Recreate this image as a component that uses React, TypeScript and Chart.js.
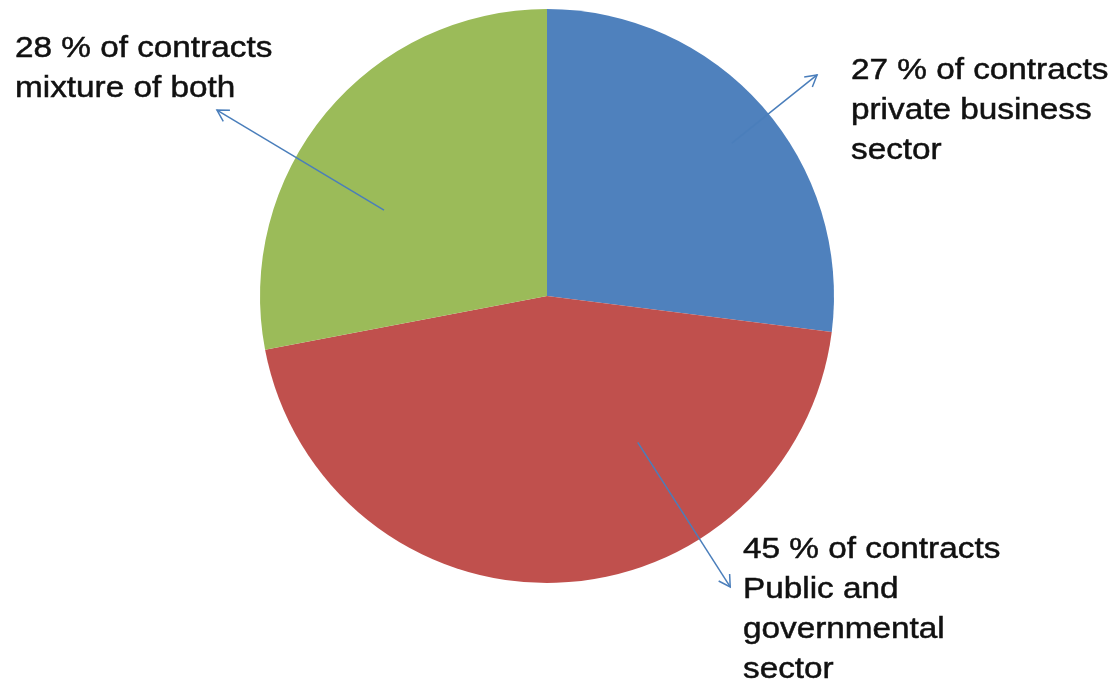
import React, { useEffect, useRef } from "react";
import { Chart, registerables } from "chart.js";

Chart.register(...registerables);

const categories = ["private business sector", "Public and governmental sector", "mixture of both"];
const shares = [27, 45, 28];
const sliceColors = ["#4f81bd", "#c0504d", "#9bbb59"];
const labelLines = [
  ["27 % of contracts", "private business", "sector"],
  ["45 % of contracts", "Public and", "governmental", "sector"],
  ["28 % of contracts", "mixture of both"],
];

// annotation geometry (polar, relative to pie centre / radius) and text anchors
const callouts = [
  { tailAng: 50.4, tailR: 0.836, tipAng: 50.7, tipR: 1.216, tx: 851, ty: 79 },
  { tailAng: 148.2, tailR: 0.6, tipAng: 147.8, tipR: 1.198, tx: 743, ty: 558 },
  { tailAng: 297.8, tailR: 0.642, tipAng: 299.4, tipR: 1.32, tx: 15, ty: 57 },
];

const calloutPlugin = {
  id: "callouts",
  afterDraw(chart: any) {
    const meta = chart.getDatasetMeta(0);
    const arc = meta.data[0];
    if (!arc) return;
    const cx = arc.x;
    const cy = arc.y;
    const r = arc.outerRadius;
    const ctx = chart.ctx;
    const pt = (ang: number, f: number) => {
      const a = (ang * Math.PI) / 180;
      return [cx + Math.sin(a) * r * f, cy - Math.cos(a) * r * f];
    };
    ctx.save();
    callouts.forEach((c, i) => {
      const [x1, y1] = pt(c.tailAng, c.tailR);
      const [x2, y2] = pt(c.tipAng, c.tipR);
      ctx.strokeStyle = "#4a7ebb";
      ctx.lineWidth = 1.5;
      ctx.beginPath();
      ctx.moveTo(x1, y1);
      ctx.lineTo(x2, y2);
      ctx.stroke();
      const ang = Math.atan2(y2 - y1, x2 - x1);
      const len = 13;
      const spread = Math.PI / 6;
      ctx.beginPath();
      ctx.moveTo(x2 - len * Math.cos(ang - spread), y2 - len * Math.sin(ang - spread));
      ctx.lineTo(x2, y2);
      ctx.lineTo(x2 - len * Math.cos(ang + spread), y2 - len * Math.sin(ang + spread));
      ctx.stroke();

      ctx.fillStyle = "#111";
      ctx.strokeStyle = "#111";
      ctx.lineWidth = 0.5;
      ctx.font = "30px 'Liberation Sans', Arial, sans-serif";
      ctx.textAlign = "left";
      ctx.textBaseline = "alphabetic";
      labelLines[i].forEach((line, j) => {
        ctx.save();
        ctx.translate(c.tx, c.ty + j * 40);
        ctx.scale(1.11, 1);
        ctx.fillText(line, 0, 0);
        ctx.strokeText(line, 0, 0);
        ctx.restore();
      });
    });
    ctx.restore();
  },
};

export default function App() {
  const canvasRef = useRef<HTMLCanvasElement | null>(null);
  useEffect(() => {
    if (!canvasRef.current) return;
    const chart = new Chart(canvasRef.current, {
      type: "pie",
      data: {
        labels: categories,
        datasets: [
          {
            data: shares,
            backgroundColor: sliceColors,
            borderWidth: 0,
          },
        ],
      },
      options: {
        animation: false,
        responsive: false,
        maintainAspectRatio: false,
        layout: { padding: { top: 9, bottom: 98, left: 260, right: 275 } },
        plugins: {
          legend: { display: false },
          tooltip: { enabled: false },
          title: { display: false },
        },
      },
      plugins: [calloutPlugin],
    });
    return () => chart.destroy();
  }, []);
  return (
    <div style={{ position: "absolute", left: 0, top: 0, width: 1109, height: 681, background: "#fff" }}>
      <canvas ref={canvasRef} width={1109} height={681} style={{ width: 1109, height: 681 }} />
    </div>
  );
}
